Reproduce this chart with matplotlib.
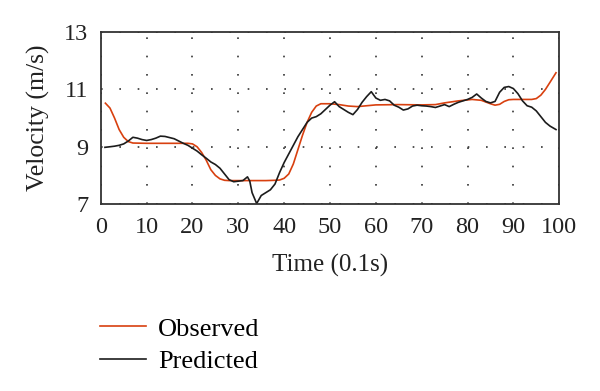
import matplotlib.pyplot as plt
from matplotlib.lines import Line2D

plt.rcParams['font.family'] = ['Liberation Serif', 'DejaVu Serif']

# Observed series
obs_t = [1, 2, 3, 4, 5, 6, 7, 10, 15, 19, 20, 21, 22, 23, 24, 25, 26, 27, 28,
         32, 36, 38, 39, 40, 41, 42, 43, 44, 45, 46, 47, 48, 50, 52, 54, 56,
         58, 60, 65, 70, 73, 75, 78, 81, 83, 85, 86, 87, 88, 89, 90, 94, 95,
         96, 97, 98, 99.3]
obs_v = [10.52, 10.35, 10.0, 9.6, 9.33, 9.18, 9.13, 9.12, 9.12, 9.12, 9.1,
         9.0, 8.8, 8.53, 8.2, 8.0, 7.88, 7.83, 7.82, 7.82, 7.82, 7.83, 7.84,
         7.9, 8.05, 8.4, 8.9, 9.4, 9.85, 10.2, 10.42, 10.5, 10.5, 10.47,
         10.42, 10.4, 10.43, 10.46, 10.47, 10.46, 10.47, 10.53, 10.6, 10.65,
         10.62, 10.5, 10.45, 10.48, 10.58, 10.64, 10.65, 10.65, 10.68, 10.8,
         11.0, 11.25, 11.58]

# Predicted series
pred_t = [0.9, 2, 3, 4, 5, 6, 7, 8, 9, 10, 11, 12, 13, 14, 15, 16, 17, 18,
          19, 20, 21, 22, 23, 24, 25, 26, 27, 28, 29, 30, 31, 32, 32.5, 33,
          34, 35, 36, 37, 38, 39, 40, 41, 42, 43, 44, 45, 46, 47, 48, 49, 50,
          51, 52, 53, 54, 55, 56, 57, 58, 59, 60, 61, 62, 63, 64, 65, 66, 67,
          68, 69, 70, 71, 72, 73, 74, 75, 76, 77, 78, 79, 80, 81, 82, 83, 84,
          85, 86, 87, 88, 89, 90, 91, 92, 93, 94, 95, 96, 97, 98, 99.3]
pred_v = [8.98, 9.0, 9.02, 9.05, 9.1, 9.2, 9.33, 9.3, 9.25, 9.22, 9.25, 9.3,
          9.37, 9.36, 9.32, 9.28, 9.2, 9.12, 9.05, 8.95, 8.85, 8.72, 8.6,
          8.47, 8.38, 8.25, 8.05, 7.85, 7.78, 7.8, 7.82, 7.95, 7.8, 7.4, 7.02,
          7.3, 7.4, 7.5, 7.7, 8.1, 8.45, 8.75, 9.05, 9.35, 9.6, 9.85, 10.0,
          10.05, 10.15, 10.3, 10.45, 10.57, 10.4, 10.3, 10.2, 10.12, 10.3,
          10.55, 10.75, 10.92, 10.7, 10.62, 10.65, 10.6, 10.45, 10.38, 10.28,
          10.32, 10.42, 10.45, 10.43, 10.42, 10.4, 10.37, 10.42, 10.47, 10.4,
          10.48, 10.55, 10.6, 10.65, 10.72, 10.84, 10.7, 10.58, 10.53, 10.58,
          10.9, 11.07, 11.1, 11.03, 10.85, 10.6, 10.43, 10.38, 10.25, 10.05,
          9.85, 9.72, 9.6]

x_ticks = [0, 10, 20, 30, 40, 50, 60, 70, 80, 90, 100]
y_ticks = [7, 9, 11, 13]

red = '#d8400f'
blk = '#1c1c1c'

fig = plt.figure(figsize=(6, 3.91), dpi=100)
ax = fig.add_axes([0.168, 0.478, 0.764, 0.44])

ax.plot(obs_t, obs_v, color=red, lw=1.2)
ax.plot(pred_t, pred_v, color=blk, lw=1.2)

ax.set_xlim(0, 100)
ax.set_ylim(7, 13)
ax.set_xticks(x_ticks)
ax.set_yticks(y_ticks)
ax.tick_params(length=0, labelsize=17.5, pad=9, colors='#222222')
ax.grid(True, color='#333333', linestyle=(0, (1, 10)), linewidth=1.2)
for s in ax.spines.values():
    s.set_linewidth(1.3)
    s.set_color('#333333')

ax.set_xlabel('Time (0.1s)', fontsize=18, color='#222222', labelpad=12)
ax.set_ylabel('Velocity (m/s)', fontsize=18.5, color='#222222', labelpad=10)

# legend sits under the axes, in figure space
handles = [Line2D([], [], color=red, lw=1.2), Line2D([], [], color=blk, lw=1.2)]
fig.legend(handles, ['Observed', 'Predicted'], loc='lower left',
           bbox_to_anchor=(100 / 600, 0.045), frameon=False, fontsize=19,
           borderpad=0, borderaxespad=0,
           handlelength=1.75, handletextpad=0.45, labelspacing=0.35)

fig.savefig('out.png', dpi=100)
